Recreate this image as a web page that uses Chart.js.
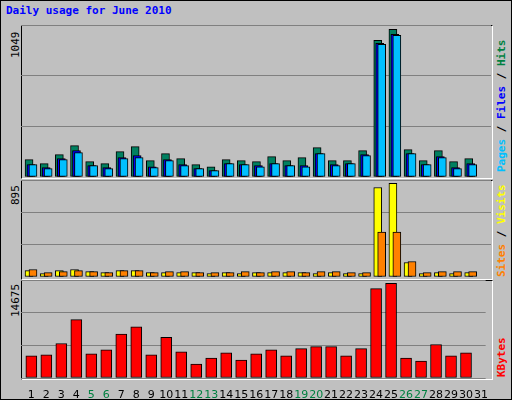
<!DOCTYPE html><html><head><script src="https://cdn.jsdelivr.net/npm/chart.js@4"></script>
<style>
body{margin:0;background:#fff}
#f{position:absolute;left:0;top:0;width:510px;height:398px;background:#C0C0C0;border:1px solid #000;border-right-color:#000;}
.p{position:absolute;left:20px;width:470px;border-top:1px solid #000;border-left:1px solid #000;border-bottom:1px solid #fff;border-right:1px solid #fff}
.t{position:absolute;font:bold 11px "DejaVu Sans Mono";white-space:nowrap}
.v{position:absolute;font:bold 11px "DejaVu Sans Mono";white-space:nowrap;transform-origin:left top;transform:rotate(-90deg)}
canvas{position:absolute}
</style></head><body><div id="f">
<div class="t" style="left:5px;top:3px;color:#0000FF">Daily usage for June 2010</div>
<div class="p" style="top:24px;height:152px"></div>
<div class="p" style="top:179px;height:98px"></div>
<div class="p" style="top:279px;height:98px"></div>
<div class="v" style="left:8px;top:57px;color:#000;font-weight:normal">1049</div>
<div class="v" style="left:8px;top:204px;color:#000;font-weight:normal">895</div>
<div class="v" style="left:8px;top:316px;color:#000;font-weight:normal">14675</div>
<div class="v" style="left:494px;top:171px"><span style="color:#00C0FF">Pages</span><span style="color:#000"> / </span><span style="color:#0000FF">Files</span><span style="color:#000"> / </span><span style="color:#008040">Hits</span></div>
<div class="v" style="left:494px;top:276px"><span style="color:#FF8000">Sites</span><span style="color:#000"> / </span><span style="color:#FFFF00">Visits</span></div>
<div class="v" style="left:494px;top:376px;color:#FF0000">KBytes</div>
</div>
<canvas id="c1" style="left:21px;top:25px" width="470" height="152"></canvas>
<canvas id="c2" style="left:21px;top:180px" width="470" height="97"></canvas>
<canvas id="c3" style="left:21px;top:280px" width="470" height="120"></canvas>
<script>
const days=[1,2,3,4,5,6,7,8,9,10,11,12,13,14,15,16,17,18,19,20,21,22,23,24,25,26,27,28,29,30,31];
const weekend=[5,6,12,13,19,20,26,27];
const hits=[120,92,154,217,106,92,175,210,113,161,127,85,71,120,113,106,141,113,134,203,113,113,182,943,1019,189,113,182,106,127,0];
const files=[85,65,127,182,78,65,134,148,71,120,85,58,44,92,85,78,92,78,78,161,85,92,154,922,984,161,85,141,65,92,0];
const pages=[85,58,120,168,78,58,127,134,65,113,78,58,44,92,85,71,92,78,71,161,78,92,147,915,977,161,85,134,58,85,0];
const visits=[59,31,59,69,50,41,59,59,41,41,41,41,31,41,31,41,41,41,41,31,41,31,31,826,864,134,31,41,31,41,0];
const sites=[69,41,50,59,50,41,59,59,41,50,50,41,41,41,50,41,50,50,41,50,50,41,41,415,415,143,41,50,50,50,0];
const kbytes=[3307,3462,5167,8732,3617,4237,6562,7647,3462,6097,3927,2067,2997,3772,2687,3617,4237,3307,4392,4702,4702,3307,4392,13383,14158,2997,2532,5012,3307,3772,0];
const maxTop=1049,maxMid=895,maxBot=14675;
Chart.defaults.animation=false;
function xy(arr){return arr.map((v,i)=>({x:days[i],y:v}));}
function xax(min,show){const a={type:'linear',min:min,max:min+31,display:!!show,offset:false,grid:{display:false},border:{display:false}};
 if(show){a.ticks={autoSkip:false,maxRotation:0,padding:3,font:{family:'DejaVu Sans',size:11},
   color:c=>weekend.includes(c.tick.value)?'#008040':'#000',callback:v=>String(v)};
  a.afterBuildTicks=s=>{s.ticks=days.map(d=>({value:d}));};
  a.afterFit=s=>{s.height=22;};}
 return a;}
function yax(max){return {min:0,max:max,display:true,position:'left',
 ticks:{display:false,stepSize:max/3},border:{display:false},grid:{color:'#808080',lineWidth:1,drawTicks:false}};}
function ds(data,color,axis,th){return {data:xy(data),backgroundColor:color,borderColor:'#000',borderWidth:1,borderSkipped:false,barThickness:th,xAxisID:axis,grouped:false};}
const common={responsive:false,events:[],plugins:{legend:{display:false},tooltip:{enabled:false}},layout:{padding:0}};
new Chart(c1,{type:'bar',data:{datasets:[ds(pages,'#00C0FF','xp',8),ds(files,'#0000FF','xf',8),ds(hits,'#008060','xh',8)]},
 options:{...common,scales:{xh:xax(0.47),xf:xax(0.34),xp:xax(0.21),y:yax(maxTop)}}});
new Chart(c2,{type:'bar',data:{datasets:[ds(sites,'#FF8000','xs',8),ds(visits,'#FFFF00','xv',8)]},
 options:{...common,scales:{xv:xax(0.47),xs:xax(0.21),y:yax(maxMid)}}});
new Chart(c3,{type:'bar',data:{datasets:[ds(kbytes,'#FF0000','xk',11)]},
 options:{...common,scales:{xk:xax(0.31,true),y:yax(maxBot)}}});
</script></body></html>
